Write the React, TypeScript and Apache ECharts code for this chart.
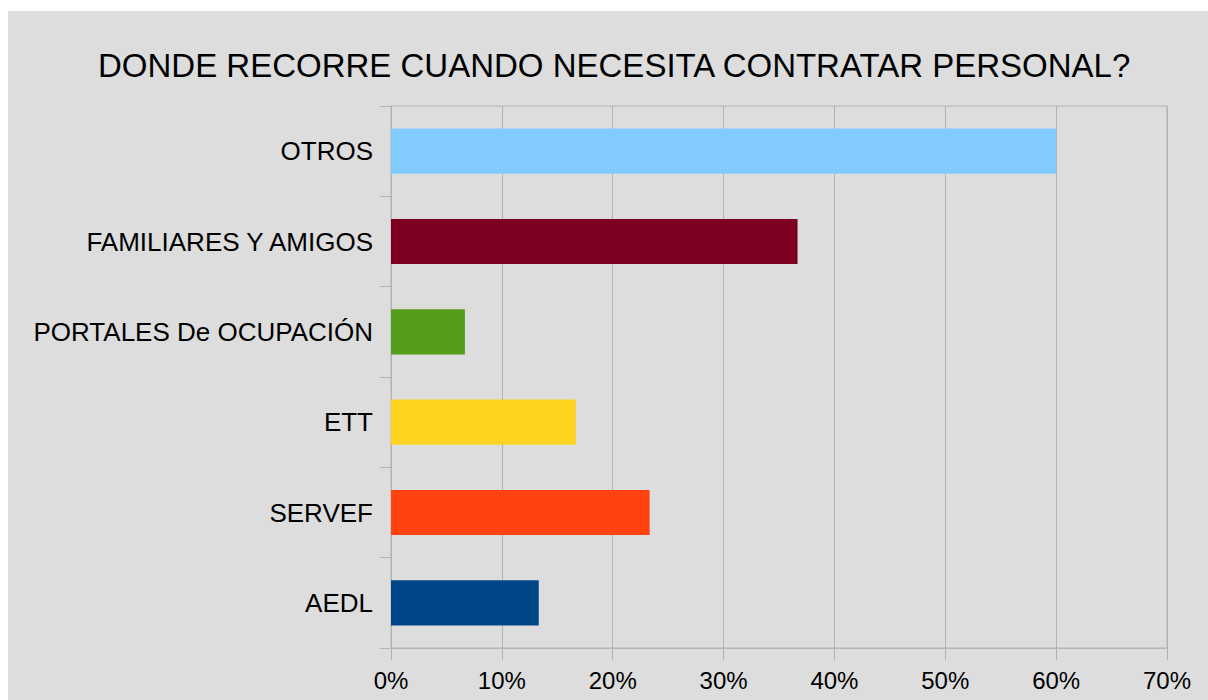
import React, { useEffect, useRef } from "react";
import * as echarts from "echarts";

const titleText = "DONDE RECORRE CUANDO NECESITA CONTRATAR PERSONAL?";
const categories = [
  "AEDL",
  "SERVEF",
  "ETT",
  "PORTALES De OCUPACIÓN",
  "FAMILIARES Y AMIGOS",
  "OTROS",
];
const values = [13.33, 23.33, 16.67, 6.67, 36.67, 60];
const barColors = ["#004586", "#ff420e", "#ffd320", "#579d1c", "#7e0021", "#83caff"];
const xTicks = { min: 0, max: 70, interval: 10 };

export default function App() {
  const ref = useRef<HTMLDivElement>(null);
  useEffect(() => {
    if (!ref.current) return;
    const chart = echarts.init(ref.current, null, { renderer: "svg" });
    const font = "'Liberation Sans', Arial, sans-serif";
    const gridColor = "#b3b3b3";
    chart.setOption({
      animation: false,
      backgroundColor: "#dddddd",
      textStyle: { fontFamily: font },
      title: {
        text: titleText,
        left: 85,
        top: 33,
        textStyle: { fontFamily: font, fontSize: 33, fontWeight: "normal", color: "#000" },
      },
      grid: {
        left: 383,
        right: 41,
        top: 95,
        bottom: 52,
        show: true,
        borderColor: gridColor,
        borderWidth: 1,
        backgroundColor: "transparent",
      },
      xAxis: {
        type: "value",
        min: xTicks.min,
        max: xTicks.max,
        interval: xTicks.interval,
        axisLine: { show: true, lineStyle: { color: gridColor, width: 1 } },
        axisTick: { show: true, length: 12, lineStyle: { color: gridColor, width: 1 } },
        splitLine: { show: true, lineStyle: { color: gridColor, width: 1 } },
        axisLabel: {
          formatter: "{value}%",
          fontFamily: font,
          fontSize: 24,
          color: "#000",
          margin: 20,
        },
      },
      yAxis: {
        type: "category",
        data: categories,
        axisLine: { show: true, lineStyle: { color: gridColor, width: 1 } },
        axisTick: { show: true, length: 11, lineStyle: { color: gridColor, width: 1 } },
        splitLine: { show: false },
        axisLabel: { fontFamily: font, fontSize: 26, color: "#000", margin: 18 },
      },
      series: [
        {
          type: "bar",
          barWidth: "50%",
          data: values.map((v, i) => ({ value: v, itemStyle: { color: barColors[i] } })),
        },
      ],
    });
    return () => chart.dispose();
  }, []);
  return (
    <div
      ref={ref}
      style={{ position: "absolute", left: 8, top: 11, width: 1200, height: 689 }}
    />
  );
}
